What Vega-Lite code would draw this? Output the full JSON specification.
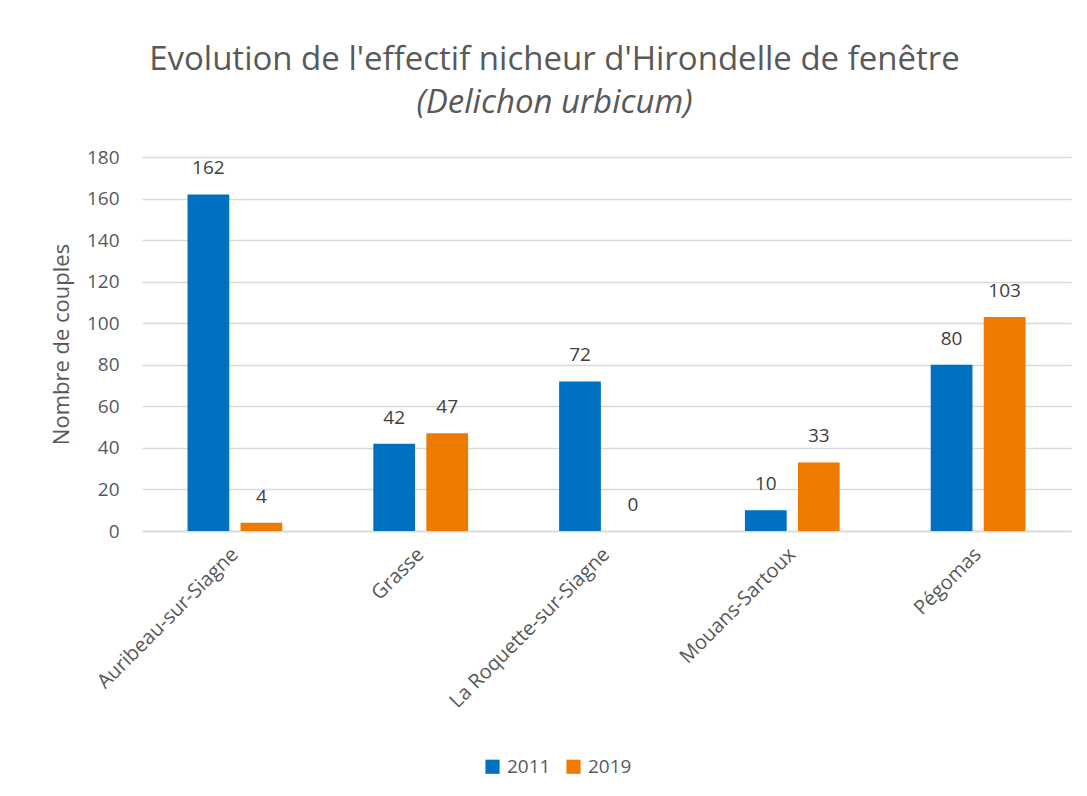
{
  "$schema": "https://vega.github.io/schema/vega-lite/v6.json",
  "autosize": "none",
  "width": 929,
  "height": 374,
  "padding": {"left": 142, "top": 157, "right": 16, "bottom": 265},
  "background": "white",
  "title": {
    "text": "Evolution de l'effectif nicheur d'Hirondelle de fenêtre",
    "subtitle": "(Delichon urbicum)",
    "font": "Open Sans",
    "fontSize": 33,
    "fontWeight": "normal",
    "color": "#595959",
    "subtitleFont": "Open Sans",
    "subtitleFontSize": 33,
    "subtitleFontStyle": "italic",
    "subtitleColor": "#595959",
    "subtitlePadding": 10,
    "anchor": "middle",
    "frame": "group",
    "dx": -52,
    "offset": 28
  },
  "data": {
    "values": [
      {"Commune": "Auribeau-sur-Siagne", "Annee": "2011", "Couples": 162},
      {"Commune": "Auribeau-sur-Siagne", "Annee": "2019", "Couples": 4},
      {"Commune": "Grasse", "Annee": "2011", "Couples": 42},
      {"Commune": "Grasse", "Annee": "2019", "Couples": 47},
      {"Commune": "La Roquette-sur-Siagne", "Annee": "2011", "Couples": 72},
      {"Commune": "La Roquette-sur-Siagne", "Annee": "2019", "Couples": 0},
      {"Commune": "Mouans-Sartoux", "Annee": "2011", "Couples": 10},
      {"Commune": "Mouans-Sartoux", "Annee": "2019", "Couples": 33},
      {"Commune": "Pégomas", "Annee": "2011", "Couples": 80},
      {"Commune": "Pégomas", "Annee": "2019", "Couples": 103}
    ]
  },
  "encoding": {
    "x": {
      "field": "Commune",
      "type": "nominal",
      "sort": null,
      "scale": {"paddingInner": 0.49, "paddingOuter": 0.245},
      "axis": {
        "title": null,
        "labelAngle": -45,
        "labelAlign": "right",
        "labelBaseline": "middle",
        "labelFont": "Open Sans",
        "labelFontSize": 20,
        "labelColor": "#595959",
        "labelPadding": 20,
        "labelLimit": 400,
        "ticks": false,
        "domainColor": "#D9D9D9",
        "domainWidth": 1.5,
        "grid": false
      }
    },
    "xOffset": {
      "field": "Annee",
      "type": "nominal",
      "scale": {"paddingInner": 0.213, "paddingOuter": 0}
    },
    "y": {
      "field": "Couples",
      "type": "quantitative",
      "scale": {"domain": [0, 180], "nice": false},
      "axis": {
        "title": "Nombre de couples",
        "titleFont": "Open Sans",
        "titleFontSize": 22,
        "titleFontWeight": "normal",
        "titleColor": "#595959",
        "titlePadding": 13,
        "values": [0, 20, 40, 60, 80, 100, 120, 140, 160, 180],
        "labelFont": "Open Sans",
        "labelFontSize": 19,
        "labelColor": "#595959",
        "labelPadding": 23,
        "ticks": false,
        "domain": false,
        "grid": true,
        "gridColor": "#D9D9D9",
        "gridWidth": 1.5
      }
    }
  },
  "layer": [
    {
      "mark": {"type": "bar"},
      "encoding": {
        "color": {
          "field": "Annee",
          "type": "nominal",
          "scale": {"domain": ["2011", "2019"], "range": ["#0070C0", "#EE7B00"]},
          "legend": {
            "title": null,
            "orient": "none",
            "legendX": 341,
            "legendY": 600,
            "direction": "horizontal",
            "symbolType": "square",
            "symbolSize": 200,
            "symbolStrokeWidth": 0,
            "labelFont": "Open Sans",
            "labelFontSize": 19,
            "labelColor": "#595959",
            "labelOffset": 5,
            "columnPadding": 13
          }
        }
      }
    },
    {
      "mark": {
        "type": "text",
        "baseline": "middle",
        "dy": -26,
        "font": "Open Sans",
        "fontSize": 19,
        "color": "#404040"
      },
      "encoding": {
        "text": {"field": "Couples", "type": "quantitative"}
      }
    }
  ],
  "config": {
    "view": {"stroke": null}
  }
}
